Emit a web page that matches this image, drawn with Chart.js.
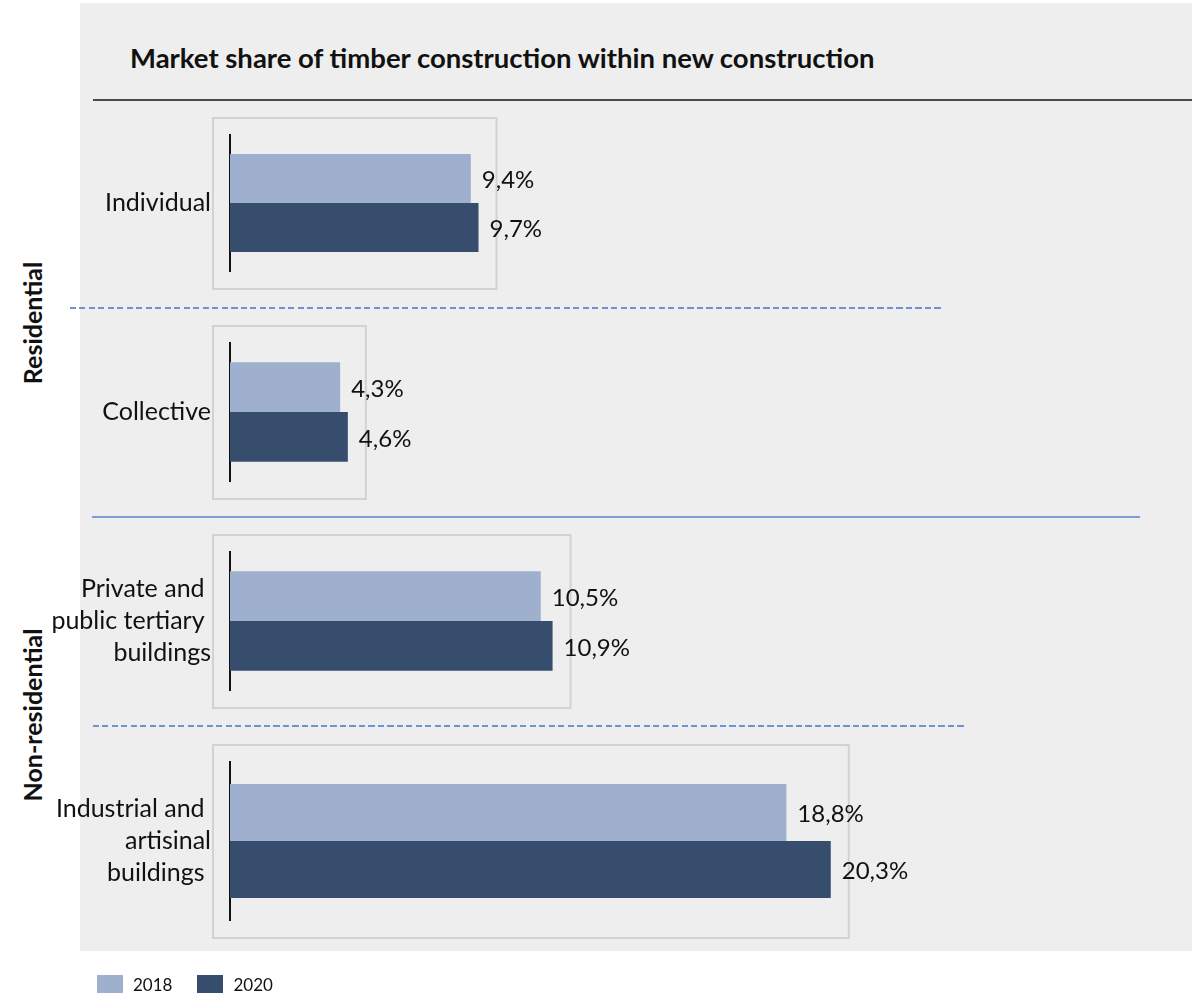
<!DOCTYPE html>
<html>
<head>
<meta charset="utf-8">
<script src="https://cdn.jsdelivr.net/npm/chart.js@4.4.1/dist/chart.umd.min.js"></script>
<style>
  body { margin: 0; background: #fff; font-family: Lato, sans-serif; }
  #wrap { position: relative; width: 1192px; height: 993px; overflow: hidden; }
  #panel { position: absolute; left: 80px; top: 3px; width: 1112px; height: 948px; background: #eeeeee; }
  #title { position: absolute; left: 130px; top: 41px; font-weight: bold; font-size: 27.5px; color: #111; white-space: nowrap; }
  #topline { position: absolute; left: 93px; top: 99px; width: 1099px; height: 2px; background: #4a4a4a; }
  .dash { position: absolute; height: 2px;
    background: repeating-linear-gradient(90deg, #6f92d2 0 6px, transparent 6px 9.5px); }
  .solid { position: absolute; height: 2px; background: #7c9ed6; }
  .grp { position: absolute; font-weight: bold; font-size: 25px; color: #111; white-space: nowrap;
    transform: translate(-50%, -50%) rotate(-90deg); }
  canvas { position: absolute; left: 0; }
  #legend { position: absolute; left: 97px; top: 974px; font-size: 17px; color: #111; display: flex; }
  #legend span { display: inline-flex; align-items: center; margin-right: 25px; }
  #legend i { display: inline-block; width: 26px; height: 19px; margin-right: 10px; }
</style>
</head>
<body>
<div id="wrap">
  <div id="panel"></div>
  <div id="title">Market share of timber construction within new construction</div>
  <div id="topline"></div>
  <div class="dash" style="left:70px; top:307px; width:871px;"></div>
  <div class="solid" style="left:92px; top:516px; width:1048px;"></div>
  <div class="dash" style="left:93px; top:725px; width:871px;"></div>
  <div class="grp" style="left:32px; top:323px;">Residential</div>
  <div class="grp" style="left:32px; top:715px;">Non-residential</div>
  <canvas id="c0"></canvas>
  <canvas id="c1"></canvas>
  <canvas id="c2"></canvas>
  <canvas id="c3"></canvas>
  <div id="legend"></div>
</div>
<script>
// Données
const categories = [
  ["Individual"],
  ["Collective"],
  ["Private and ", "public tertiary ", "buildings"],
  ["Industrial and ", "artisinal", "buildings "]
];
const years = ["2018", "2020"];
const share2018 = [9.4, 4.3, 10.5, 18.8];
const share2020 = [9.7, 4.6, 10.9, 20.3];
const scaleMax = [24.2, 24.2, 20.95, 20.95];

const colors = ["#9eb0cd", "#374d6e"];

// Position de chaque petit graphique (zone de tracé)
const rows = [
  { top: 135, h: 136 },
  { top: 343, h: 138 },
  { top: 552, h: 138 },
  { top: 762, h: 158 }
];
const AXIS_X = 230;
const PLOT_W = 620;
const PAD = 90;

// Cadre gris autour de chaque graphique
const framePlugin = {
  id: "frame",
  beforeDraw(chart) {
    const { ctx, chartArea, scales } = chart;
    const vals = chart.data.datasets.map(d => d.data[0]);
    const right = scales.x.getPixelForValue(Math.max(...vals)) + 18;
    ctx.save();
    ctx.strokeStyle = "#d2d2d2";
    ctx.lineWidth = 2;
    ctx.strokeRect(chartArea.left - 17, chartArea.top - 17,
      right - (chartArea.left - 17), chartArea.height + 35);
    ctx.restore();
  }
};

// Étiquettes de valeur
const valuePlugin = {
  id: "values",
  afterDatasetsDraw(chart) {
    const { ctx } = chart;
    ctx.save();
    ctx.font = "24px Lato";
    ctx.fillStyle = "#111";
    ctx.textAlign = "left";
    ctx.textBaseline = "middle";
    chart.data.datasets.forEach((ds, i) => {
      chart.getDatasetMeta(i).data.forEach((bar, j) => {
        const txt = ds.data[j].toFixed(1).replace(".", ",") + "%";
        ctx.fillText(txt, bar.x + 11, bar.y + 2);
      });
    });
    ctx.restore();
  }
};

categories.forEach((cat, k) => {
  const r = rows[k];
  const cv = document.getElementById("c" + k);
  cv.width = 1192;
  cv.height = r.h + PAD * 2;
  cv.style.top = (r.top - PAD) + "px";

  new Chart(cv, {
    type: "bar",
    data: {
      labels: [cat],
      datasets: [
        { label: years[0], data: [share2018[k]], backgroundColor: colors[0] },
        { label: years[1], data: [share2020[k]], backgroundColor: colors[1] }
      ]
    },
    options: {
      indexAxis: "y",
      responsive: false,
      animation: false,
      devicePixelRatio: 1,
      categoryPercentage: 0.72,
      barPercentage: 1,
      layout: { padding: { top: PAD, bottom: PAD, left: 0, right: 1192 - AXIS_X - PLOT_W } },
      plugins: { legend: { display: false }, tooltip: { enabled: false } },
      scales: {
        x: { display: false, min: 0, max: scaleMax[k] },
        y: {
          afterFit(s) { s.width = AXIS_X; },
          grid: { display: false, drawTicks: false },
          border: { display: true, color: "#111", width: 2 },
          ticks: {
            color: "#111",
            padding: 19,
            font: { family: "Lato", size: 25, lineHeight: 1.28 }
          }
        }
      }
    },
    plugins: [framePlugin, valuePlugin]
  });
});

// Légende
const leg = document.getElementById("legend");
years.forEach((y, i) => {
  const s = document.createElement("span");
  s.innerHTML = '<i style="background:' + colors[i] + '"></i>' + y;
  leg.appendChild(s);
});
</script>
</body>
</html>
